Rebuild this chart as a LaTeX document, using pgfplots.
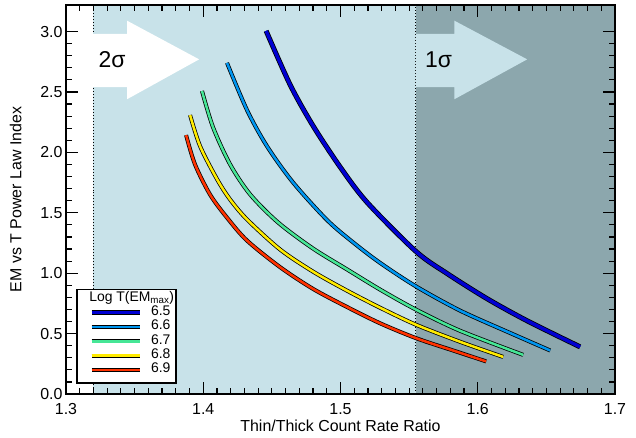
\documentclass[border=0pt]{standalone}
\usepackage{pgfplots}
\pgfplotsset{compat=1.18}
\usepackage{pgfplotstable}
\usepackage{fontspec}
\setmainfont{Liberation Sans}
\definecolor{cA}{RGB}{0,0,210}
\definecolor{cB}{RGB}{0,150,240}
\definecolor{cC}{RGB}{70,230,150}
\definecolor{cD}{RGB}{255,235,0}
\definecolor{cE}{RGB}{255,50,0}
\definecolor{lightbg}{RGB}{200,226,233}
\definecolor{darkbg}{RGB}{140,167,173}

\pgfplotstableread{
x y
1.4458 3.006
1.4633 2.560
1.4800 2.220
1.4997 1.880
1.5194 1.586
1.5551 1.179
1.5777 0.997
1.6068 0.789
1.6360 0.606
1.6746 0.390
}\tA
\pgfplotstableread{
x y
1.4173 2.741
1.4319 2.350
1.4465 2.050
1.4655 1.750
1.4902 1.440
1.5092 1.255
1.5289 1.085
1.5551 0.890
1.5872 0.690
1.6236 0.505
1.6528 0.360
}\tB
\pgfplotstableread{
x y
1.3991 2.508
1.4071 2.209
1.4195 1.902
1.4341 1.653
1.4545 1.420
1.4800 1.204
1.5048 1.031
1.5289 0.864
1.5551 0.698
1.5872 0.523
1.6331 0.324
}\tC
\pgfplotstableread{
x y
1.3904 2.309
1.3977 2.051
1.4101 1.777
1.4195 1.611
1.4319 1.445
1.4560 1.196
1.4800 1.013
1.5048 0.855
1.5289 0.714
1.5551 0.573
1.5872 0.432
1.6185 0.307
}\tD
\pgfplotstableread{
x y
1.3875 2.143
1.3940 1.900
1.4050 1.650
1.4173 1.460
1.4319 1.270
1.4560 1.050
1.4800 0.870
1.5048 0.720
1.5289 0.585
1.5551 0.462
1.5821 0.360
1.6061 0.270
}\tE

\begin{document}
\begin{tikzpicture}
\begin{axis}[
  scale only axis, width=549bp, height=389bp,
  xmin=1.3, xmax=1.7, ymin=0, ymax=3.22,
  xtick={1.3,1.4,1.5,1.6,1.7},
  ytick={0,0.5,1,1.5,2,2.5,3},
  minor x tick num=9, minor y tick num=4,
  tick align=inside,
  major tick length=12bp, minor tick length=6bp,
  every tick/.style={black, line width=1.2bp},
  axis line style={line width=1.8bp},
  /pgf/number format/fixed,
  /pgf/number format/fixed zerofill,
  /pgf/number format/precision=1,
  /pgf/number format/assume math mode=true,
  ticklabel style={font=\fontsize{16}{19}\selectfont},
  xticklabel style={yshift=-6bp},
  label style={font=\fontsize{16}{19}\selectfont},
  xlabel={Thin/Thick Count Rate Ratio},
  xlabel style={yshift=2bp},
  ylabel={EM vs T Power Law Index},
  ylabel style={yshift=12bp},
  axis on top,
  legend style={at={(axis cs:1.3168,0.732)}, anchor=north west, draw=none, fill=none,
    inner sep=0pt, outer sep=0pt, font=\fontsize{14}{16}\selectfont,
    nodes={inner sep=0pt, text height=10bp, text depth=4.3bp},
    column sep=9bp, row sep=0pt},
  legend cell align=left,
]
% background regions
\fill[lightbg] (axis cs:1.32,0) rectangle (axis cs:1.555,3.22);
\fill[darkbg] (axis cs:1.555,0) rectangle (axis cs:1.7,3.22);
\draw[black, dotted, line width=1bp] (axis cs:1.32,0) -- (axis cs:1.32,3.22);
\draw[black, dotted, line width=1bp] (axis cs:1.555,0) -- (axis cs:1.555,3.22);
% arrows
\fill[white] (axis cs:1.3,2.54) -- (axis cs:1.3445,2.54) -- (axis cs:1.3445,2.44) -- (axis cs:1.397,2.77) -- (axis cs:1.3445,3.09) -- (axis cs:1.3445,2.98) -- (axis cs:1.3,2.98) -- cycle;
\fill[lightbg] (axis cs:1.555,2.54) -- (axis cs:1.583,2.54) -- (axis cs:1.583,2.44) -- (axis cs:1.636,2.77) -- (axis cs:1.583,3.09) -- (axis cs:1.583,2.98) -- (axis cs:1.555,2.98) -- cycle;
\node[font=\fontsize{23}{26}\selectfont] at (axis cs:1.3335,2.77) {2σ};
\node[font=\fontsize{23}{26}\selectfont] at (axis cs:1.5715,2.77) {1σ};
% legend box and title
\draw[fill=white, line width=1.2bp] (axis cs:1.308,0.091) rectangle (axis cs:1.3802,0.864);
\node[anchor=west, inner sep=0pt, font=\fontsize{14}{16}\selectfont] at (axis cs:1.3168,0.797) {Log T(EM\textsubscript{max})};
% curves
\addplot[black, line width=5bp, smooth, forget plot] table[x=x,y=y] {\tA};
\addplot[cA, line width=3.4bp, smooth, legend image code/.code={\draw[black,line width=5bp](0bp,0bp)--(48bp,0bp);\draw[cA,line width=3.4bp](0bp,0bp)--(48bp,0bp);}] table[x=x,y=y] {\tA};
\addlegendentry{6.5}
\addplot[black, line width=4bp, smooth, forget plot] table[x=x,y=y] {\tB};
\addplot[cB, line width=2.5bp, smooth, legend image code/.code={\draw[black,line width=4bp](0bp,0bp)--(48bp,0bp);\draw[cB,line width=2.5bp](0bp,0bp)--(48bp,0bp);}] table[x=x,y=y] {\tB};
\addlegendentry{6.6}
\addplot[black, line width=4bp, smooth, forget plot] table[x=x,y=y] {\tC};
\addplot[cC, line width=2.5bp, smooth, legend image code/.code={\draw[black,line width=4bp](0bp,0bp)--(48bp,0bp);\draw[cC,line width=2.5bp](0bp,0bp)--(48bp,0bp);}] table[x=x,y=y] {\tC};
\addlegendentry{6.7}
\addplot[black, line width=4bp, smooth, forget plot] table[x=x,y=y] {\tD};
\addplot[cD, line width=2.5bp, smooth, legend image code/.code={\draw[black,line width=4bp](0bp,0bp)--(48bp,0bp);\draw[cD,line width=2.5bp](0bp,0bp)--(48bp,0bp);}] table[x=x,y=y] {\tD};
\addlegendentry{6.8}
\addplot[black, line width=4bp, smooth, forget plot] table[x=x,y=y] {\tE};
\addplot[cE, line width=2.5bp, smooth, legend image code/.code={\draw[black,line width=4bp](0bp,0bp)--(48bp,0bp);\draw[cE,line width=2.5bp](0bp,0bp)--(48bp,0bp);}] table[x=x,y=y] {\tE};
\addlegendentry{6.9}
\end{axis}
\pgfresetboundingbox
\path ([shift={(-66bp,-44bp)}]current axis.south west) rectangle ([shift={(21bp,5bp)}]current axis.north east);
\end{tikzpicture}
\end{document}
